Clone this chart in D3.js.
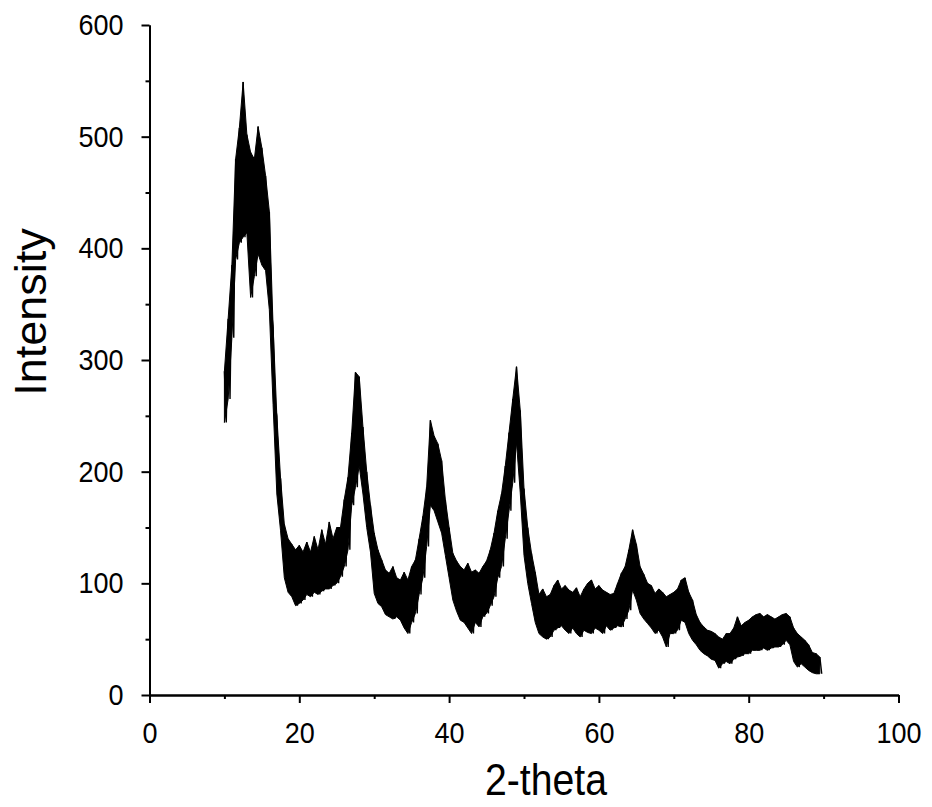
<!DOCTYPE html>
<html>
<head>
<meta charset="utf-8">
<script src="https://cdn.jsdelivr.net/npm/d3@7/dist/d3.min.js"></script>
<style>
  html, body { margin: 0; padding: 0; background: #fff; }
  svg { display: block; }
</style>
</head>
<body>
<svg id="chart" width="932" height="807"></svg>
<script>
// ---- data ----
const xTicks = [0, 20, 40, 60, 80, 100];
const xMinorTicks = [10, 30, 50, 70, 90];
const yTicks = [0, 100, 200, 300, 400, 500, 600];
const yMinorTicks = [50, 150, 250, 350, 450, 550];
const xLabel = "2-theta";
const yLabel = "Intensity";

// 2-theta sampling grid (0.5 degree steps, 10 .. 89.5)
const twoTheta = d3.range(10, 90, 0.5);

// upper envelope of the noisy trace at each grid step
const intensityHigh = [
  290, 337, 385, 480, 508, 549, 502, 486, 480, 509,
  490, 465, 433, 330, 250, 194, 153, 140, 135, 130,
  134, 128, 137, 128, 142, 130, 148, 135, 155, 140,
  150, 150, 175, 195, 235, 289, 285, 240, 200, 170,
  145, 130, 121, 112, 109, 115, 105, 103, 110, 103,
  115, 121, 140, 160, 186, 246, 232, 225, 210, 175,
  150, 127, 120, 115, 112, 118, 110, 112, 109, 115,
  120, 130, 145, 165, 180, 205, 235, 265, 294, 255,
  185, 150, 127, 110, 90, 95, 88, 90, 98, 103,
  95, 98, 94, 92, 96, 88, 95, 100, 103, 95,
  98, 94, 92, 90, 91, 100, 109, 115, 130, 148,
  135, 115, 108, 100, 98, 91, 95, 92, 88, 90,
  92, 95, 103, 105, 92, 85, 72, 65, 61, 58,
  57, 55, 52, 50, 55, 55, 60, 70, 62, 65,
  67, 70, 72, 73, 70, 72, 70, 68, 70, 72,
  73, 70, 60, 55, 52, 49, 45, 38, 37, 34
];
// lower envelope of the noisy trace at each grid step
const intensityLow = [
  244, 265, 320, 390, 405, 410, 414, 356, 375, 395,
  385, 380, 345, 260, 180, 147, 105, 92, 88, 80,
  82, 85, 90, 88, 92, 90, 93, 95, 95, 98,
  100, 106, 115, 130, 170, 186, 205, 180, 150, 128,
  91, 82, 79, 72, 70, 68, 70, 67, 60, 55,
  65, 73, 90, 105, 133, 170, 165, 155, 145, 125,
  105, 85, 75, 67, 65, 60, 55, 65, 61, 70,
  73, 80, 88, 105, 115, 140, 165, 190, 226, 181,
  125, 100, 82, 65, 55, 52, 50, 52, 58, 60,
  62, 58, 55, 60, 55, 52, 58, 56, 55, 60,
  58, 55, 62, 58, 60, 62, 61, 68, 76, 94,
  85, 73, 68, 64, 60, 55, 58, 52, 43, 55,
  55, 58, 67, 65, 55, 49, 45, 40, 37, 35,
  32, 31, 24, 28, 30, 28, 32, 34, 35, 37,
  37, 40, 40, 40, 42, 40, 42, 43, 43, 45,
  49, 45, 30, 25, 28, 25, 22, 20, 19, 19
];

// ---- layout ----
const svg = d3.select("#chart");
const x = d3.scaleLinear().domain([0, 100]).range([149.5, 898.5]);
const y = d3.scaleLinear().domain([0, 600]).range([695, 25]);
const FONT = "'Liberation Sans', Arial, Helvetica, sans-serif";

// ---- trace: dense band between the envelopes plus zig-zag noise ----
const band = twoTheta.map((t, i) => ({ t, hi: intensityHigh[i], lo: intensityLow[i] }));
svg.append("path")
  .datum(band)
  .attr("fill", "#000")
  .attr("stroke", "#000")
  .attr("stroke-width", 1)
  .attr("d", d3.area().x(d => x(d.t)).y0(d => y(d.lo)).y1(d => y(d.hi)));

const pts = [];
twoTheta.forEach((t, i) => {
  pts.push([t, intensityHigh[i]]);
  pts.push([t + 0.25, intensityLow[i]]);
});
svg.append("path")
  .datum(pts)
  .attr("fill", "none")
  .attr("stroke", "#000")
  .attr("stroke-width", 1.4)
  .attr("stroke-linejoin", "bevel")
  .attr("d", d3.line().x(d => x(d[0])).y(d => y(d[1])));

// ---- axes ----
function styleAxis(g) {
  g.selectAll(".domain").attr("stroke", "#000").attr("stroke-width", 2);
  g.selectAll(".tick line").attr("stroke", "#000").attr("stroke-width", 2);
  g.selectAll("text")
    .attr("fill", "#000")
    .style("font-family", FONT)
    .style("font-size", "30px")
    .attr("transform", "scale(0.9,1)");
}

// minor ticks
svg.append("g")
  .attr("transform", `translate(0,${y(0)})`)
  .call(d3.axisBottom(x).tickValues(xMinorTicks).tickSize(4).tickSizeOuter(0).tickFormat(""))
  .call(styleAxis);
svg.append("g")
  .attr("transform", `translate(${x(0)},0)`)
  .call(d3.axisLeft(y).tickValues(yMinorTicks).tickSize(4).tickSizeOuter(0).tickFormat(""))
  .call(styleAxis);

// major ticks
svg.append("g")
  .attr("transform", `translate(0,${y(0)})`)
  .call(d3.axisBottom(x).tickValues(xTicks).tickSize(8).tickSizeOuter(0).tickPadding(19).tickFormat(d3.format("d")))
  .call(styleAxis);
svg.append("g")
  .attr("transform", `translate(${x(0)},0)`)
  .call(d3.axisLeft(y).tickValues(yTicks).tickSize(8).tickSizeOuter(0).tickPadding(21).tickFormat(d3.format("d")))
  .call(styleAxis);

// ---- axis titles ----
svg.append("text")
  .attr("x", 546 / 0.89)
  .attr("y", 795)
  .attr("transform", "scale(0.89,1)")
  .attr("text-anchor", "middle")
  .style("font-family", FONT)
  .style("font-size", "44px")
  .attr("fill", "#000")
  .text(xLabel);

svg.append("text")
  .attr("transform", "translate(46,312) rotate(-90)")
  .attr("text-anchor", "middle")
  .style("font-family", FONT)
  .style("font-size", "45px")
  .attr("fill", "#000")
  .text(yLabel);
</script>
</body>
</html>
